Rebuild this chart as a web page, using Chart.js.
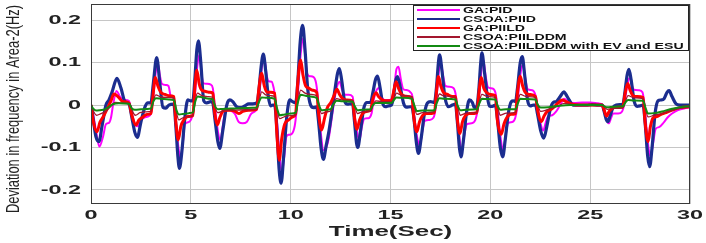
<!DOCTYPE html>
<html><head><meta charset="utf-8">
<script src="https://cdn.jsdelivr.net/npm/chart.js@4/dist/chart.umd.min.js"></script>
<style>html,body{margin:0;padding:0;background:#fff}canvas{display:block}</style>
</head><body>
<canvas id="c" width="706" height="243"></canvas>
<script>
const seriesNames = ['GA:PID','CSOA:PIID','GA:PIILD','CSOA:PIILDDM','CSOA:PIILDDM with EV and ESU'];
const xTicks = [0,5,10,15,20,25,30];
const xTickLabels = ['0','5','10','15','20','25','30'];
const yTicks = [-0.2,-0.1,0,0.1,0.2];
const yTickLabels = ['-0.2','-0.1','0','0.1','0.2'];
const xTitle = 'Time(Sec)';
const yTitle = 'Deviation in frequency in Area-2(Hz)';

// [time (s), deviation (Hz)]
const gaPID = [[0,0],[0.1,-0.02],[0.25,-0.06],[0.42,-0.098],[0.6,-0.075],[0.75,-0.045],[0.9,-0.042],[1.0,-0.03],[1.12,0.005],[1.28,0.033],[1.45,0.02],[1.65,0.012],[1.9,0.01],
[2.05,-0.02],[2.2,-0.045],[2.35,-0.05],[2.5,-0.035],[2.65,-0.03],[2.85,-0.027],[3.0,-0.02],
[3.12,0.02],[3.25,0.08],[3.35,0.098],[3.45,0.07],[3.55,0.05],[3.75,0.047],[3.88,0.045],[4.0,0.02],[4.15,0.015],
[4.25,-0.04],[4.38,-0.1],[4.48,-0.125],[4.6,-0.09],[4.7,-0.045],[4.9,-0.04],[5.0,-0.035],[5.1,-0.02],
[5.2,0.02],[5.32,0.09],[5.42,0.118],[5.52,0.08],[5.62,0.052],[5.8,0.05],[6.0,0.048],[6.1,0.04],
[6.2,0.0],[6.35,-0.06],[6.48,-0.082],[6.6,-0.05],[6.75,-0.01],[6.95,-0.012],[7.2,-0.02],[7.4,-0.04],[7.6,-0.043],[7.8,-0.04],[8.0,-0.022],[8.2,-0.015],[8.3,-0.01],
[8.42,0.02],[8.55,0.085],[8.68,0.11],[8.8,0.07],[8.9,0.056],[9.05,0.055],[9.15,0.04],[9.22,0.02],
[9.32,-0.04],[9.45,-0.12],[9.56,-0.16],[9.68,-0.12],[9.78,-0.075],[9.9,-0.07],[10.05,-0.068],[10.2,-0.05],[10.28,-0.02],
[10.38,0.04],[10.5,0.12],[10.62,0.157],[10.72,0.12],[10.82,0.075],[10.95,0.068],[11.15,0.066],[11.28,0.05],
[11.4,0.0],[11.52,-0.07],[11.65,-0.106],[11.78,-0.1],[11.9,-0.08],[12.0,-0.05],
[12.15,0.0],[12.3,0.04],[12.45,0.055],[12.58,0.035],[12.7,0.025],[12.9,0.024],[13.1,0.02],
[13.22,-0.03],[13.35,-0.07],[13.45,-0.082],[13.57,-0.05],[13.7,-0.032],[13.9,-0.031],[14.05,-0.02],
[14.15,0.01],[14.3,0.035],[14.42,0.04],[14.55,0.02],[14.7,0.012],[14.95,0.012],[15.05,0.015],
[15.18,0.04],[15.3,0.085],[15.4,0.09],[15.52,0.06],[15.65,0.037],[15.85,0.035],[16.0,0.03],[16.1,0.02],
[16.2,-0.03],[16.35,-0.08],[16.47,-0.095],[16.6,-0.06],[16.72,-0.037],[16.95,-0.035],[17.15,-0.03],[17.25,-0.01],
[17.35,0.04],[17.45,0.09],[17.52,0.098],[17.63,0.07],[17.75,0.045],[17.95,0.043],[18.15,0.04],[18.28,0.02],
[18.4,-0.05],[18.5,-0.095],[18.58,-0.106],[18.7,-0.07],[18.83,-0.045],[19.05,-0.043],[19.25,-0.035],[19.35,-0.015],
[19.48,0.04],[19.58,0.095],[19.65,0.106],[19.76,0.07],[19.88,0.042],[20.1,0.039],[20.25,0.03],[20.32,0.01],
[20.45,-0.05],[20.57,-0.095],[20.65,-0.106],[20.77,-0.07],[20.9,-0.042],[21.1,-0.04],[21.25,-0.03],[21.33,-0.01],
[21.45,0.05],[21.57,0.09],[21.64,0.094],[21.76,0.06],[21.88,0.037],[22.1,0.035],[22.25,0.025],[22.35,0.0],
[22.5,-0.04],[22.65,-0.06],[22.78,-0.04],[22.9,-0.026],[23.1,-0.024],[23.3,-0.015],[23.5,0.0],[23.7,0.015],[23.9,0.008],[24.2,0.005],[24.6,0.006],[25.0,0.006],[25.4,0.004],[25.65,0.0],
[25.75,-0.02],[25.85,-0.038],[25.93,-0.043],[26.05,-0.03],[26.15,-0.02],[26.4,-0.02],[26.6,-0.015],[26.7,0.0],
[26.8,0.03],[26.92,0.06],[27.0,0.064],[27.1,0.045],[27.2,0.036],[27.45,0.035],[27.62,0.03],[27.72,0.0],
[27.85,-0.07],[27.95,-0.11],[28.03,-0.12],[28.15,-0.09],[28.28,-0.056],[28.45,-0.052],[28.7,-0.04],[28.9,-0.028],[29.1,-0.02],[29.4,-0.012],[29.7,-0.008],[30,-0.006]];

const csoaPIID = [[0,0],[0.1,-0.03],[0.25,-0.075],[0.4,-0.086],[0.55,-0.05],[0.75,0.0],[0.9,0.012],[1.05,0.03],[1.3,0.063],[1.5,0.04],[1.7,0.008],[1.9,0.003],
[2.05,-0.03],[2.2,-0.065],[2.32,-0.076],[2.5,-0.04],[2.7,-0.005],[2.85,0.005],[3.0,0.005],
[3.12,0.05],[3.29,0.112],[3.45,0.05],[3.6,-0.005],[3.75,-0.007],[3.9,0.0],[4.15,0.002],
[4.25,-0.05],[4.35,-0.12],[4.43,-0.149],[4.55,-0.11],[4.7,-0.03],[4.85,0.012],[5.0,0.01],[5.1,0.01],
[5.2,0.06],[5.3,0.13],[5.38,0.151],[5.5,0.1],[5.65,0.01],[5.8,0.005],[6.0,0.008],[6.1,0.005],
[6.2,-0.03],[6.35,-0.085],[6.45,-0.102],[6.6,-0.06],[6.8,0.0],[6.95,0.012],[7.1,0.008],[7.3,-0.004],[7.5,-0.006],[7.7,-0.002],[7.9,0.003],[8.1,0.003],[8.3,0.005],
[8.4,0.03],[8.52,0.09],[8.63,0.12],[8.75,0.08],[8.88,0.02],[9.0,-0.002],[9.1,0.0],[9.2,0.0],
[9.3,-0.05],[9.42,-0.15],[9.52,-0.184],[9.65,-0.12],[9.8,-0.03],[9.95,0.012],[10.1,0.008],[10.25,0.005],
[10.35,0.05],[10.48,0.15],[10.6,0.188],[10.72,0.13],[10.85,0.04],[11.0,0.0],[11.15,-0.006],[11.3,-0.004],
[11.4,-0.04],[11.52,-0.1],[11.64,-0.128],[11.78,-0.095],[11.9,-0.066],[12.05,-0.02],[12.2,0.03],[12.35,0.075],[12.44,0.086],[12.55,0.06],[12.7,0.01],[12.85,0.002],[13.0,0.003],[13.1,0.003],
[13.2,-0.04],[13.3,-0.09],[13.36,-0.1],[13.5,-0.06],[13.65,-0.01],[13.8,0.006],[14.0,0.006],
[14.12,0.03],[14.25,0.06],[14.35,0.068],[14.48,0.04],[14.6,0.005],[14.75,-0.004],[14.9,-0.002],[15.05,0.0],
[15.15,0.02],[15.25,0.055],[15.35,0.067],[15.5,0.04],[15.65,0.005],[15.8,-0.005],[16.0,-0.004],[16.07,-0.004],
[16.17,-0.03],[16.3,-0.09],[16.4,-0.114],[16.53,-0.08],[16.7,-0.02],[16.85,0.005],[17.0,0.008],[17.2,0.006],
[17.3,0.04],[17.4,0.1],[17.46,0.118],[17.58,0.08],[17.72,0.02],[17.9,-0.004],[18.1,0.0],[18.25,0.002],
[18.35,-0.04],[18.45,-0.1],[18.53,-0.122],[18.66,-0.08],[18.8,-0.02],[18.95,0.012],[19.1,0.006],[19.2,-0.006],[19.33,-0.002],
[19.43,0.04],[19.52,0.1],[19.58,0.123],[19.7,0.08],[19.85,0.02],[19.95,-0.002],[20.1,-0.003],[20.25,0.0],
[20.35,-0.03],[20.5,-0.1],[20.62,-0.122],[20.75,-0.08],[20.9,-0.02],[21.05,0.008],[21.15,0.01],[21.26,0.008],
[21.36,0.04],[21.5,0.1],[21.6,0.114],[21.72,0.07],[21.87,0.01],[22.0,-0.002],[22.15,0.0],[22.26,0.0],
[22.36,-0.02],[22.52,-0.06],[22.68,-0.078],[22.83,-0.05],[23.0,-0.01],[23.15,0.006],[23.3,0.008],[23.5,0.02],[23.68,0.031],[23.85,0.02],[23.95,0.012],[24.15,0.0],[24.5,0.0],[24.8,0.0],[25.1,0.001],[25.4,0.0],[25.6,0.0],
[25.7,-0.015],[25.8,-0.033],[25.89,-0.039],[26.0,-0.025],[26.15,-0.005],[26.3,0.0],[26.5,0.001],[26.64,0.002],
[26.74,0.03],[26.85,0.07],[26.94,0.084],[27.05,0.06],[27.2,0.01],[27.35,-0.003],[27.5,-0.002],[27.65,0.0],
[27.75,-0.04],[27.88,-0.12],[27.98,-0.145],[28.1,-0.1],[28.25,-0.02],[28.4,0.01],[28.55,0.012],[28.7,0.015],[28.85,0.03],[28.95,0.034],[29.1,0.02],[29.3,0.003],[29.5,0.0],[30,0.0]];

const gaPIILD = [[0,0],[0.1,-0.035],[0.3,-0.063],[0.45,-0.04],[0.62,-0.027],[0.8,-0.01],[1.0,0.01],[1.15,0.026],[1.35,0.02],[1.6,0.008],[1.9,0.005],
[2.05,-0.025],[2.25,-0.047],[2.4,-0.035],[2.6,-0.028],[2.8,-0.022],[3.0,-0.02],
[3.1,0.02],[3.22,0.065],[3.35,0.045],[3.5,0.03],[3.7,0.025],[3.9,0.022],[4.15,0.02],
[4.25,-0.04],[4.37,-0.082],[4.5,-0.05],[4.65,-0.035],[4.85,-0.027],[5.1,-0.025],
[5.2,0.04],[5.3,0.082],[5.42,0.05],[5.55,0.035],[5.75,0.032],[5.95,0.03],[6.1,0.028],
[6.2,-0.02],[6.33,-0.047],[6.45,-0.03],[6.6,-0.015],[6.8,-0.012],[7.0,-0.012],[7.2,-0.014],[7.4,-0.02],[7.6,-0.015],[7.9,-0.012],[8.3,-0.01],
[8.4,0.035],[8.55,0.075],[8.68,0.045],[8.82,0.03],[9.0,0.03],[9.2,0.028],
[9.3,-0.06],[9.43,-0.13],[9.55,-0.08],[9.7,-0.045],[9.9,-0.035],[10.1,-0.028],[10.25,-0.02],
[10.35,0.05],[10.5,0.106],[10.62,0.07],[10.75,0.045],[10.9,0.04],[11.1,0.035],[11.3,0.03],
[11.4,-0.02],[11.55,-0.059],[11.7,-0.03],[11.85,-0.005],[12.0,0.005],
[12.15,0.02],[12.32,0.037],[12.45,0.025],[12.6,0.015],[12.8,0.012],[13.1,0.01],
[13.2,-0.03],[13.32,-0.057],[13.45,-0.035],[13.6,-0.02],[13.8,-0.015],[14.0,-0.012],
[14.12,0.015],[14.28,0.029],[14.4,0.02],[14.6,0.012],[14.85,0.01],[15.05,0.01],
[15.15,0.03],[15.28,0.055],[15.4,0.04],[15.55,0.025],[15.75,0.021],[16.07,0.018],
[16.17,-0.03],[16.32,-0.063],[16.45,-0.04],[16.6,-0.025],[16.8,-0.02],[17.2,-0.018],
[17.3,0.03],[17.4,0.067],[17.52,0.045],[17.65,0.03],[17.85,0.025],[18.1,0.02],[18.25,0.02],
[18.35,-0.035],[18.48,-0.067],[18.6,-0.04],[18.75,-0.025],[18.95,-0.02],[19.33,-0.018],
[19.43,0.03],[19.55,0.065],[19.67,0.04],[19.8,0.03],[20.0,0.025],[20.25,0.022],
[20.35,-0.035],[20.55,-0.069],[20.68,-0.045],[20.82,-0.03],[21.0,-0.022],[21.26,-0.02],
[21.36,0.03],[21.5,0.068],[21.62,0.045],[21.75,0.03],[21.95,0.025],[22.26,0.02],
[22.36,-0.01],[22.55,-0.039],[22.7,-0.025],[22.85,-0.015],[23.1,-0.008],[23.4,0.005],[23.6,0.012],[23.8,0.008],[24.1,0.002],[24.5,0.0],[25.6,0.0],
[25.7,-0.012],[25.82,-0.026],[25.95,-0.015],[26.1,-0.008],[26.3,-0.005],[26.64,-0.004],
[26.74,0.025],[26.88,0.051],[27.0,0.035],[27.15,0.022],[27.35,0.02],[27.65,0.018],
[27.75,-0.04],[27.9,-0.086],[28.02,-0.05],[28.15,-0.03],[28.35,-0.027],[28.55,-0.022],[28.8,-0.018],[29.1,-0.012],[29.5,-0.006],[30,-0.004]];

const csoaPIILDDM = [[0,0],[0.1,-0.012],[0.28,-0.024],[0.5,-0.02],[0.7,-0.016],[0.95,-0.005],[1.2,0.006],[1.5,0.005],[1.9,0.004],
[2.05,-0.012],[2.22,-0.024],[2.45,-0.018],[2.75,-0.016],[3.0,-0.015],
[3.12,0.01],[3.25,0.024],[3.45,0.02],[3.8,0.018],[4.15,0.017],
[4.27,-0.015],[4.4,-0.035],[4.6,-0.03],[4.9,-0.027],[5.1,-0.025],
[5.22,0.01],[5.33,0.028],[5.55,0.022],[5.85,0.02],[6.1,0.018],
[6.22,-0.005],[6.35,-0.018],[6.6,-0.014],[7.2,-0.012],[7.8,-0.011],[8.3,-0.01],
[8.42,0.01],[8.55,0.031],[8.75,0.024],[9.0,0.022],[9.2,0.02],
[9.32,-0.01],[9.45,-0.032],[9.7,-0.027],[10.0,-0.025],[10.25,-0.023],
[10.37,0.01],[10.5,0.035],[10.72,0.028],[11.0,0.025],[11.3,0.022],
[11.42,-0.002],[11.55,-0.02],[11.8,-0.016],[12.0,-0.014],
[12.15,0.002],[12.3,0.015],[12.6,0.012],[13.1,0.011],
[13.22,-0.005],[13.35,-0.02],[13.6,-0.016],[14.0,-0.014],
[14.12,0.0],[14.27,0.01],[14.6,0.008],[15.05,0.008],
[15.17,0.015],[15.3,0.028],[15.55,0.023],[16.07,0.02],
[16.19,-0.003],[16.32,-0.022],[16.6,-0.018],[17.2,-0.016],
[17.32,0.008],[17.45,0.026],[17.7,0.021],[18.25,0.018],
[18.37,-0.005],[18.5,-0.024],[18.8,-0.019],[19.33,-0.017],
[19.45,0.008],[19.58,0.025],[19.85,0.02],[20.25,0.018],
[20.37,-0.005],[20.5,-0.024],[20.8,-0.019],[21.26,-0.017],
[21.38,0.008],[21.5,0.025],[21.8,0.02],[22.26,0.018],
[22.38,0.0],[22.52,-0.015],[22.9,-0.01],[23.4,-0.002],[23.7,0.004],[24.2,0.001],[25.6,0.0],
[25.72,-0.005],[25.85,-0.01],[26.2,-0.008],[26.64,-0.007],
[26.76,0.008],[26.9,0.022],[27.2,0.017],[27.65,0.015],
[27.77,-0.008],[27.9,-0.028],[28.2,-0.024],[28.6,-0.02],[29.0,-0.014],[29.5,-0.008],[30,-0.004]];

const csoaEVESU = [[0,0],[0.1,-0.008],[0.25,-0.013],[0.45,-0.012],[0.7,-0.01],[0.9,-0.004],[1.1,0.002],[1.4,0.004],[1.9,0.003],
[2.05,-0.008],[2.2,-0.011],[2.5,-0.01],[2.8,-0.009],[3.0,-0.008],
[3.12,0.008],[3.25,0.016],[3.5,0.015],[3.9,0.013],[4.15,0.012],
[4.28,-0.012],[4.4,-0.022],[4.6,-0.021],[4.9,-0.019],[5.1,-0.017],
[5.22,0.008],[5.35,0.02],[5.6,0.018],[5.9,0.015],[6.1,0.013],
[6.22,-0.003],[6.35,-0.01],[6.6,-0.009],[7.2,-0.008],[7.8,-0.007],[8.3,-0.006],
[8.42,0.008],[8.55,0.018],[8.8,0.017],[9.2,0.015],
[9.32,-0.008],[9.45,-0.024],[9.7,-0.022],[10.0,-0.02],[10.25,-0.018],
[10.37,0.008],[10.5,0.024],[10.75,0.022],[11.0,0.02],[11.3,0.017],
[11.42,0.0],[11.55,-0.012],[11.8,-0.011],[12.0,-0.01],
[12.15,0.002],[12.3,0.01],[12.6,0.009],[13.1,0.008],
[13.22,-0.004],[13.35,-0.012],[13.6,-0.011],[14.0,-0.01],
[14.12,0.0],[14.25,0.005],[14.6,0.005],[15.05,0.005],
[15.17,0.012],[15.3,0.018],[15.6,0.017],[16.07,0.015],
[16.19,0.0],[16.32,-0.014],[16.6,-0.013],[17.2,-0.012],
[17.32,0.005],[17.45,0.016],[17.7,0.015],[18.25,0.013],
[18.37,-0.002],[18.5,-0.012],[18.8,-0.011],[19.33,-0.01],
[19.45,0.004],[19.58,0.015],[19.85,0.014],[20.25,0.013],
[20.37,-0.002],[20.5,-0.011],[20.8,-0.01],[21.26,-0.01],
[21.38,0.004],[21.5,0.015],[21.8,0.014],[22.26,0.013],
[22.38,0.0],[22.52,-0.006],[22.9,-0.005],[23.4,-0.002],[24.0,0.0],[25.6,0.0],
[25.72,-0.003],[25.85,-0.005],[26.2,-0.004],[26.64,-0.003],
[26.76,0.006],[26.9,0.012],[27.2,0.011],[27.65,0.01],
[27.77,-0.006],[27.9,-0.02],[28.2,-0.019],[28.6,-0.015],[29.0,-0.01],[29.5,-0.005],[30,-0.003]];

const seriesData = [gaPID, csoaPIID, gaPIILD, csoaPIILDDM, csoaEVESU];
const colors = ['#ff00ff','#1b2d8f','#ff0000','#a3162e','#138a13'];
const widths = [2, 3.2, 3, 1.3, 2];
const drawOrder = [4, 3, 2, 1, 0]; // lower = on top

const AREA = {left:91, right:690, top:4, bottom:204};
const BOLD = 'bold 13px "Liberation Sans", Arial, sans-serif';

function drawScaled(ctx, text, x, y, targetScale, align) {
  ctx.save();
  ctx.translate(x, y);
  ctx.scale(targetScale, 1);
  ctx.textAlign = align; ctx.textBaseline = 'middle';
  ctx.fillText(text, 0, 0);
  ctx.restore();
}

const decor = {
  id: 'decor',
  afterDraw(chart) {
    const ctx = chart.ctx, ca = chart.chartArea;
    ctx.save();
    // frame
    ctx.strokeStyle = '#3a3a3a'; ctx.lineWidth = 1;
    ctx.strokeRect(ca.left + 0.5, ca.top + 0.5, ca.right - ca.left - 1, ca.bottom - ca.top - 1);
    ctx.fillStyle = '#222';
    ctx.font = BOLD;
    // y tick labels
    const ys = chart.scales.y;
    yTicks.forEach((v, i) => drawScaled(ctx, yTickLabels[i], 81, ys.getPixelForValue(v), 1.8, 'right'));
    const xs = chart.scales.x;
    xTicks.forEach((v, i) => drawScaled(ctx, xTickLabels[i], xs.getPixelForValue(v), 215, 1.8, 'center'));
    // x title
    ctx.font = 'bold 14px "Liberation Sans", Arial, sans-serif';
    drawScaled(ctx, xTitle, (ca.left + ca.right) / 2, 232, 1.85, 'center');
    // y title
    ctx.font = '19px "Liberation Sans", Arial, sans-serif';
    const w = ctx.measureText(yTitle).width;
    ctx.save();
    ctx.translate(14, 109);
    ctx.rotate(-Math.PI / 2);
    ctx.scale(208 / w, 1);
    ctx.textAlign = 'center'; ctx.textBaseline = 'middle';
    ctx.fillText(yTitle, 0, 0);
    ctx.restore();
    // legend
    const bx = 413, by = 5, bw = 276, bh = 46;
    ctx.fillStyle = '#fff';
    ctx.fillRect(bx, by, bw, bh);
    ctx.strokeStyle = '#222'; ctx.lineWidth = 1;
    ctx.strokeRect(bx + 0.5, by + 0.5, bw - 1, bh - 1);
    ctx.font = 'bold 9.3px "Liberation Sans", Arial, sans-serif';
    seriesNames.forEach((n, i) => {
      const ry = 10 + i * 9;
      ctx.strokeStyle = colors[i]; ctx.lineWidth = 2;
      ctx.beginPath(); ctx.moveTo(417, ry); ctx.lineTo(460, ry); ctx.stroke();
      ctx.fillStyle = '#111';
      drawScaled(ctx, n, 463, ry, 1.52, 'left');
    });
    ctx.restore();
  }
};

new Chart(document.getElementById('c'), {
  type: 'line',
  data: {
    datasets: seriesData.map((d, i) => ({
      label: seriesNames[i],
      data: d.map(p => ({x: p[0], y: p[1]})),
      borderColor: colors[i],
      borderWidth: widths[i],
      pointRadius: 0,
      fill: false,
      cubicInterpolationMode: 'monotone',
      order: drawOrder[i]
    }))
  },
  options: {
    responsive: false,
    animation: false,
    devicePixelRatio: 1,
    layout: {padding: {left: 0, right: 706 - AREA.right, top: AREA.top, bottom: 0}},
    plugins: {legend: {display: false}, tooltip: {enabled: false}},
    scales: {
      x: {
        type: 'linear', min: 0, max: 30,
        afterBuildTicks: s => { s.ticks = xTicks.map(v => ({value: v})); },
        afterFit: s => { s.height = 243 - AREA.bottom; },
        ticks: {display: false},
        grid: {color: '#c6c6c6', lineWidth: 1, drawTicks: false},
        border: {display: false}
      },
      y: {
        type: 'linear', min: -0.233, max: 0.238,
        afterBuildTicks: s => { s.ticks = yTicks.map(v => ({value: v})); },
        afterFit: s => { s.width = AREA.left; },
        ticks: {display: false},
        grid: {color: '#c6c6c6', lineWidth: 1, drawTicks: false},
        border: {display: false}
      }
    }
  },
  plugins: [decor]
});
</script>
</body></html>
